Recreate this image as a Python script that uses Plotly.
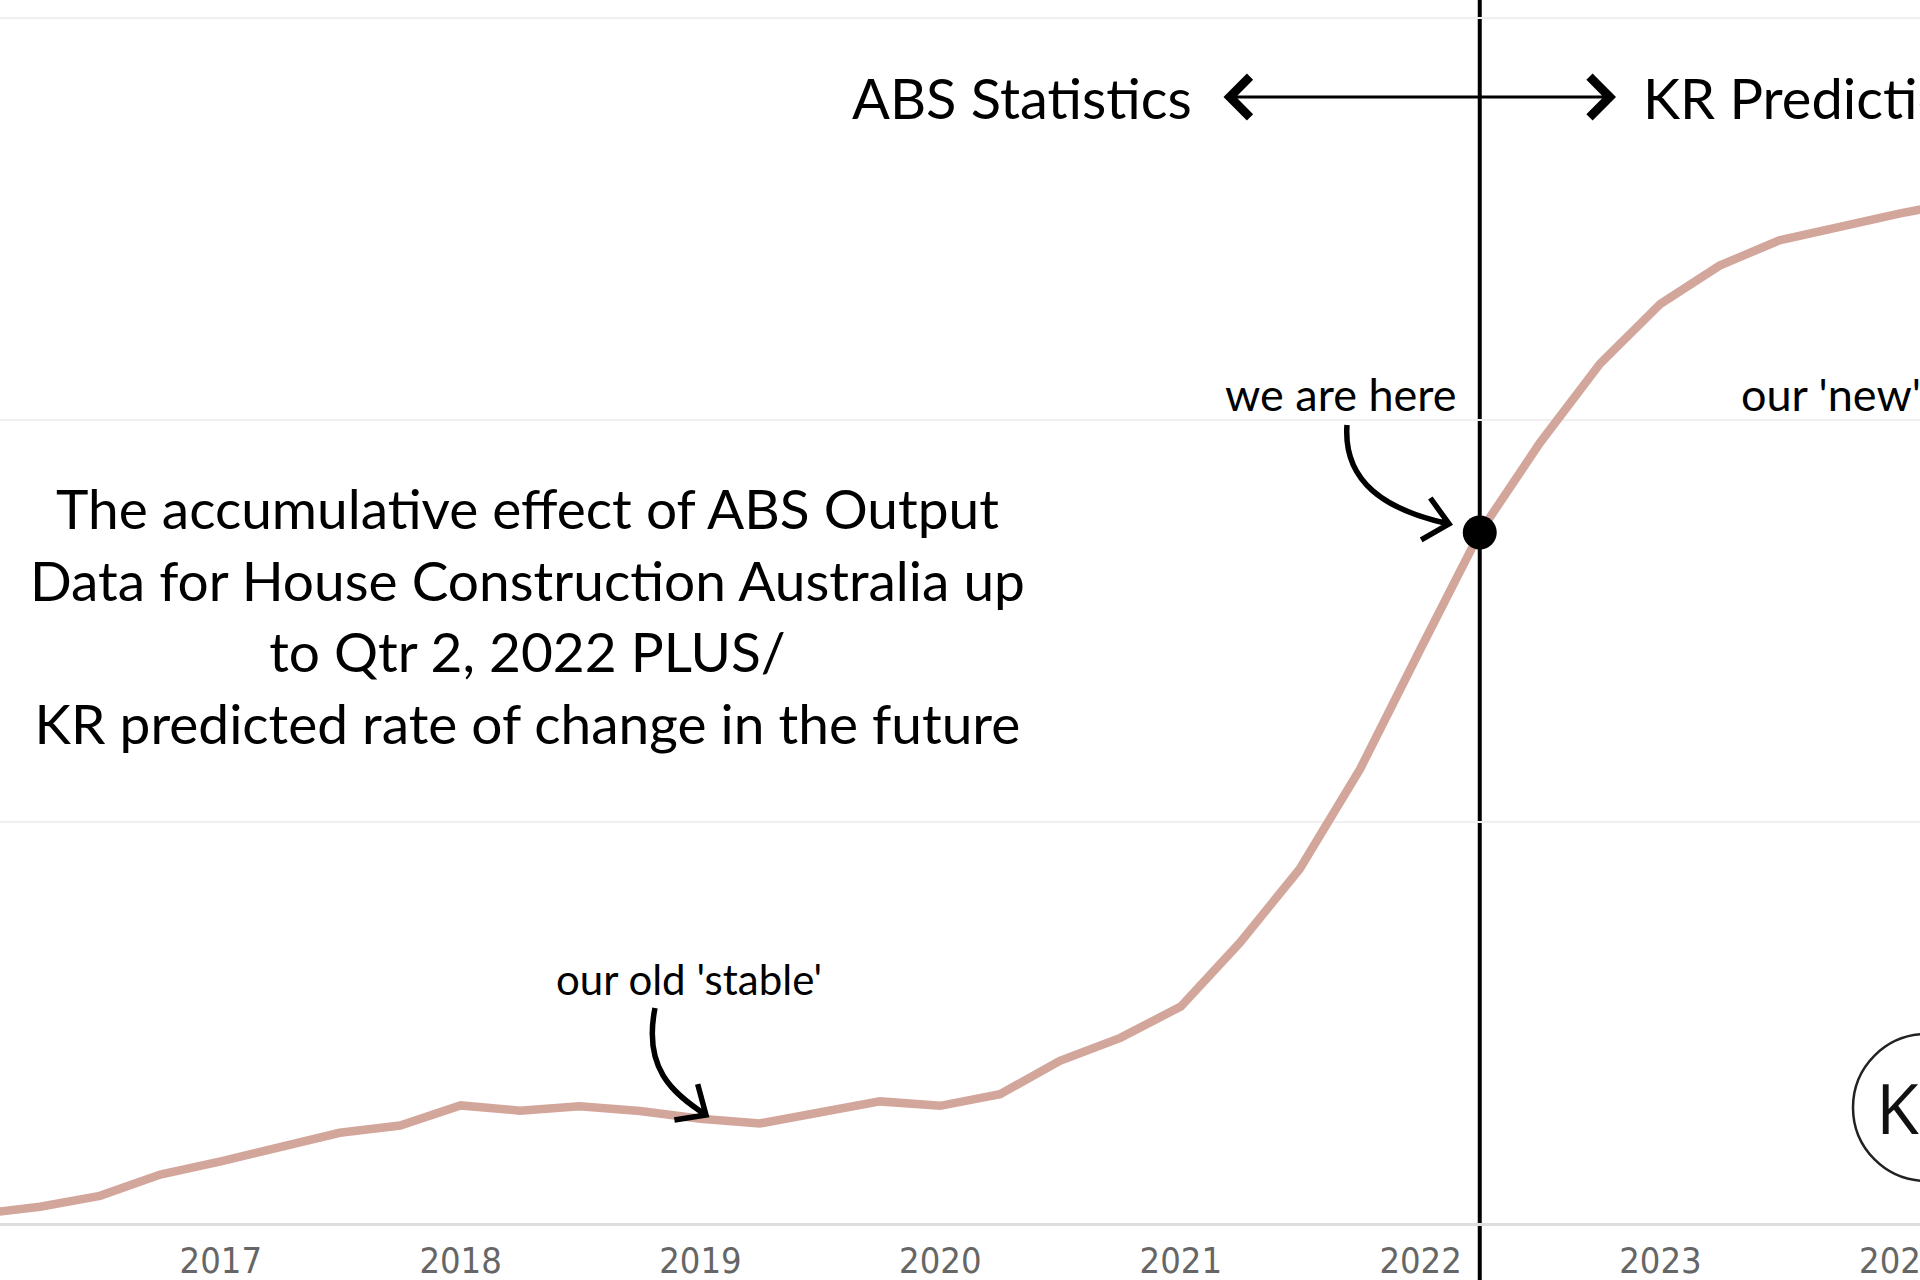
import math
import plotly.graph_objects as go

# ---------------- data ----------------
quarters = [
    "2016-01-01", "2016-04-01", "2016-07-01", "2016-10-01",
    "2017-01-01", "2017-04-01", "2017-07-01", "2017-10-01",
    "2018-01-01", "2018-04-01", "2018-07-01", "2018-10-01",
    "2019-01-01", "2019-04-01", "2019-07-01", "2019-10-01",
    "2020-01-01", "2020-04-01", "2020-07-01", "2020-10-01",
    "2021-01-01", "2021-04-01", "2021-07-01", "2021-10-01",
    "2022-01-01", "2022-04-01", "2022-07-01", "2022-10-01",
    "2023-01-01", "2023-04-01", "2023-07-01", "2023-10-01",
    "2024-01-01", "2024-04-01",
]
cumulative_effect = [
    0.25, 0.43, 0.70, 1.23,
    1.56, 1.93, 2.27, 2.45,
    2.95, 2.82, 2.93, 2.81,
    2.62, 2.50, 2.76, 3.05,
    2.94, 3.23, 4.06, 4.63,
    5.41, 7.00, 8.83, 11.32,
    14.31, 17.20, 19.42, 21.40,
    22.89, 23.84, 24.47, 24.81,
    25.14, 25.42,
]
we_are_here_quarter = "2022-04-01"

year_ticks = ["2016-01-01", "2017-01-01", "2018-01-01", "2019-01-01", "2020-01-01",
              "2021-01-01", "2022-01-01", "2023-01-01", "2024-01-01"]
year_labels = ["2016", "2017", "2018", "2019", "2020", "2021", "2022", "2023", "2024"]
grid_values = [0, 10, 20, 30]

# ---------------- layout helpers ----------------
W, H = 1920, 1280
MB = 56
PH = H - MB

def px(x):
    return x / W

def py(y):
    return (PH - y) / PH

HAND = "Lato, 'Open Sans', sans-serif"
LINE_COLOR = "#d3a69c"

idx = quarters.index(we_are_here_quarter)

fig = go.Figure()
fig.add_trace(go.Scatter(
    x=quarters, y=cumulative_effect, mode="lines",
    line=dict(color=LINE_COLOR, width=8.5), hoverinfo="skip", showlegend=False,
))
fig.add_trace(go.Scatter(
    x=[quarters[idx]], y=[cumulative_effect[idx]], mode="markers",
    marker=dict(color="black", size=34), hoverinfo="skip", showlegend=False,
))

shapes = []
# vertical "now" line with white halo
for col, w in (("white", 16), ("black", 4)):
    shapes.append(dict(type="line", xref="x", yref="paper",
                       x0=we_are_here_quarter, x1=we_are_here_quarter,
                       y0=py(H + 20), y1=py(-20),
                       line=dict(color=col, width=w), layer="between"))


def curved_arrow(p0, c1, c2, p3, head=32, spread=42, width=5.5):
    d = (p3[0] - c2[0], p3[1] - c2[1])
    n = math.hypot(*d)
    bx, by = -d[0] / n, -d[1] / n
    arms = []
    for s in (spread, -spread):
        a = math.radians(s)
        rx = bx * math.cos(a) - by * math.sin(a)
        ry = bx * math.sin(a) + by * math.cos(a)
        arms.append((p3[0] + head * rx, p3[1] + head * ry))

    def P(pt):
        return f"{px(pt[0]):.5f},{py(pt[1]):.5f}"
    path = (f"M{P(p0)} C{P(c1)} {P(c2)} {P(p3)} "
            f"M{P(arms[0])} L{P(p3)} L{P(arms[1])}")
    return dict(type="path", xref="paper", yref="paper", path=path,
                line=dict(color="black", width=width), layer="above")

shapes.append(curved_arrow((1347, 425), (1343, 482), (1385, 510), (1449, 524)))
shapes.append(curved_arrow((655, 1008), (643, 1068), (672, 1093), (706, 1115)))

# logo circle
shapes.append(dict(type="circle", xref="paper", yref="paper",
                   x0=px(1853), x1=px(2000), y0=py(1181), y1=py(1034),
                   line=dict(color="#222222", width=2.5)))

annotations = [
    dict(text="ABS Statistics", x=px(1194), y=py(97), xanchor="right", yanchor="middle",
         font=dict(family=HAND, size=56, color="black")),
    dict(text="KR Predictions", x=px(1641), y=py(97), xanchor="left", yanchor="middle",
         font=dict(family=HAND, size=56, color="black")),
    dict(text="", x=px(1616), y=py(97), ax=-394, ay=0, showarrow=True,
         arrowside="end+start", arrowhead=4, startarrowhead=4,
         arrowsize=2.6, startarrowsize=2.6, arrowwidth=3, arrowcolor="black",
         standoff=0, startstandoff=0),
    dict(text="we are here", x=px(1341), y=py(394), xanchor="center", yanchor="middle",
         font=dict(family=HAND, size=45, color="black")),
    dict(text="our 'new' 'stable'", x=px(1739), y=py(394), xanchor="left", yanchor="middle",
         font=dict(family=HAND, size=45, color="black")),
    dict(text="our old 'stable'", x=px(689), y=py(979), xanchor="center", yanchor="middle",
         font=dict(family=HAND, size=42, color="black")),
    dict(text=("The accumulative effect of ABS Output<br>"
               "Data for House Construction Australia up<br>"
               "to Qtr 2, 2022 PLUS/<br>"
               "KR predicted rate of change in the future"),
         x=px(527), y=py(615), xanchor="center", yanchor="middle", align="center",
         font=dict(family=HAND, size=55, color="black")),
    dict(text="KR", x=px(1874), y=py(1107), xanchor="left", yanchor="middle",
         font=dict(family="'Open Sans', 'Noto Sans', sans-serif", size=70, color="#111111")),
]
for a in annotations:
    a.setdefault("xref", "paper")
    a.setdefault("yref", "paper")
    a.setdefault("showarrow", False)

# axis ranges derived from pixel geometry (240 px per year, 40.2 px per y unit)
fig.update_layout(
    width=W, height=H,
    margin=dict(l=0, r=0, t=0, b=MB, pad=0, autoexpand=False),
    paper_bgcolor="white", plot_bgcolor="white",
    showlegend=False,
    shapes=shapes, annotations=annotations,
    xaxis=dict(
        type="date", range=["2016-01-31", "2024-01-31"],
        tickvals=year_ticks, ticktext=year_labels,
        showgrid=False, zeroline=False, showline=False, ticks="",
        automargin=False, ticklabeloverflow="allow", ticklabelstandoff=12,
        tickfont=dict(family="'Liberation Sans Narrow', 'DejaVu Sans Condensed', sans-serif",
                      size=36, color="#666666"),
    ),
    yaxis=dict(
        range=[0, PH / 40.2], tickvals=grid_values, showticklabels=False,
        showgrid=True, gridcolor="#f0f0f0", gridwidth=2,
        zeroline=True, zerolinecolor="#dedede", zerolinewidth=3,
        showline=False, ticks="", automargin=False,
    ),
)

fig.write_html("out.html", config={"displayModeBar": False},
               post_script="document.body.style.margin='0';document.body.style.overflow='hidden';")
